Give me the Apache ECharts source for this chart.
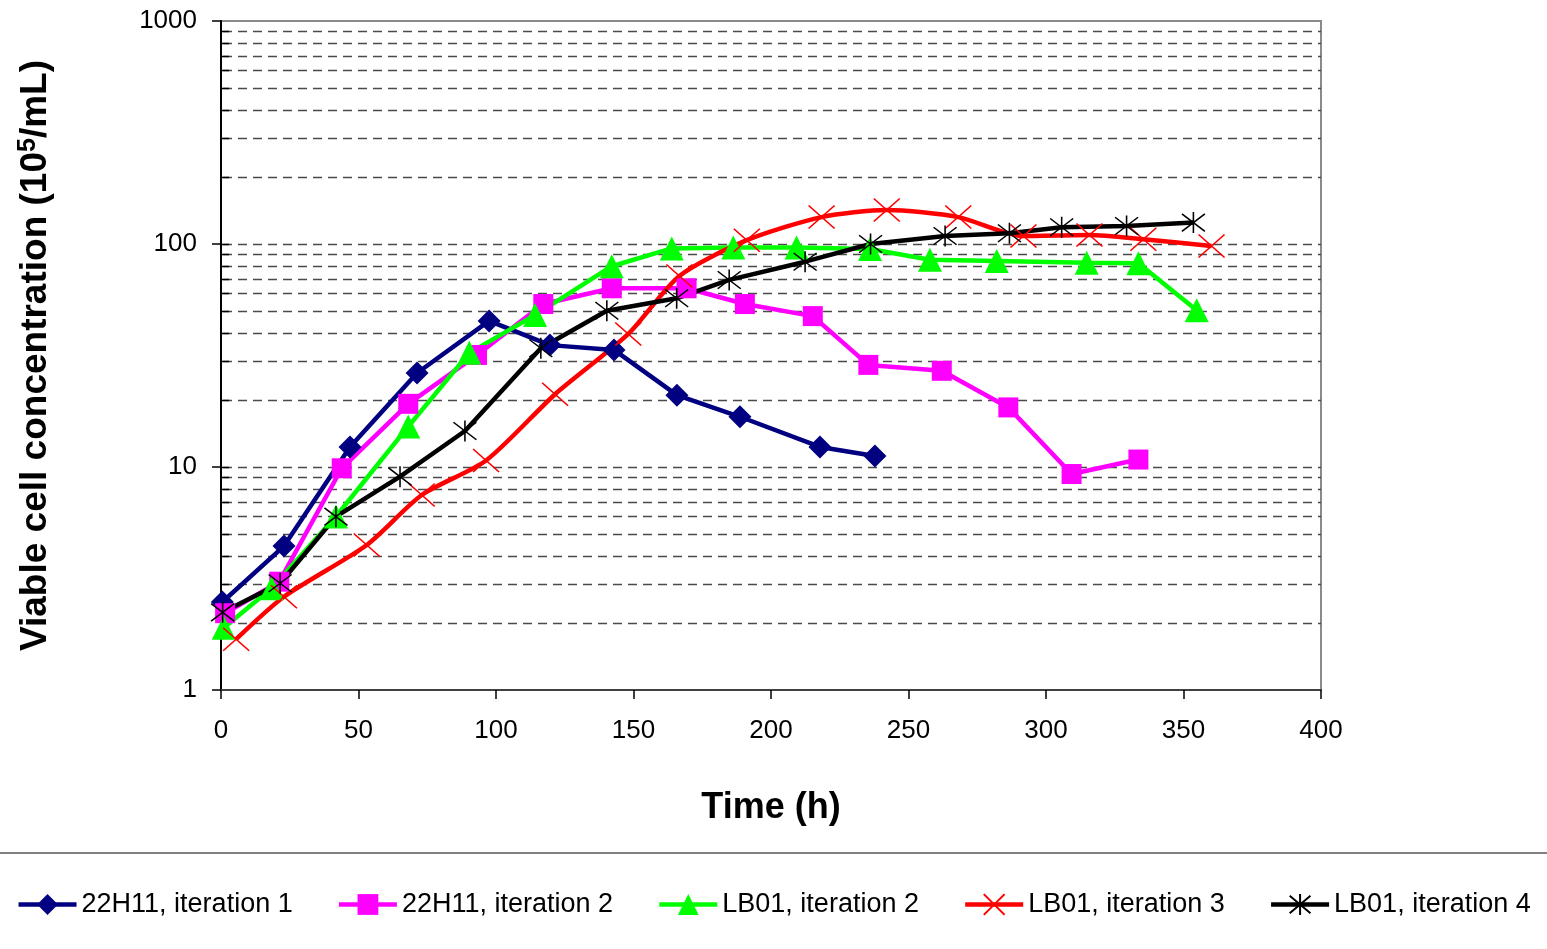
<!DOCTYPE html>
<html>
<head>
<meta charset="utf-8">
<script src="https://cdn.jsdelivr.net/npm/echarts@6/dist/echarts.min.js"></script>
<style>
  html, body { margin: 0; padding: 0; background: #fff; }
  #chart { width: 1547px; height: 949px; }
</style>
</head>
<body>
<div id="chart"></div>
<script>
// values: [time (h), viable cells (10^5/mL)]
var s22h11it1 = [[0.5, 2.48], [22.9, 4.42], [46.9, 12.3], [71.3, 26.4], [97.5, 45.2], [119.6, 35.2],
  [142.9, 33.5], [165.8, 21.0], [188.7, 16.8], [217.8, 12.3], [237.8, 11.2]]
var s22h11it2 = [[1.5, 2.21], [21.2, 3.06], [43.9, 9.87], [68.1, 19.2], [93.1, 31.8], [117.2, 53.8],
  [142.1, 63.3], [169.3, 63.3], [190.5, 53.8], [215.2, 47.5], [235.4, 28.7], [262.1, 27.0],
  [286.3, 18.5], [309.3, 9.3], [333.6, 10.8]]
var sLB01it2 = [[1, 1.9], [18.4, 2.86], [41.8, 6.0], [68.1, 15.2], [90.3, 32.5], [114.2, 48.0],
  [142.1, 79.5], [163.9, 95.5], [186.3, 96.5], [209.3, 96.5], [236.0, 95.0], [257.8, 85.0],
  [282.1, 84.0], [314.8, 82.5], [333.6, 82.0], [354.8, 50.5]]
var sLB01it3 = [[5.5, 1.69], [22.9, 2.62], [53.0, 4.47], [73.0, 7.49], [96.4, 10.7], [121.5, 21.2],
  [148.1, 39.5], [166.7, 71.9], [191.2, 104], [218.4, 132], [242.1, 142], [268.1, 132],
  [291.8, 108.6], [315.8, 109.7], [335.4, 105], [360.2, 97.9]]
var sLB01it4 = [[0.6, 2.23], [21.5, 3.01], [41.8, 5.99], [65.1, 9.05], [88.7, 14.5], [116.3, 34.1],
  [140.3, 50.2], [165.7, 57.1], [184.8, 69.0], [212.4, 83.3], [236.2, 100], [263.3, 108.6],
  [286.7, 111.7], [305.7, 118.8], [329.3, 120.5], [353.6, 124.7]]

var seriesNames = ['22H11, iteration 1', '22H11, iteration 2', 'LB01, iteration 2', 'LB01, iteration 3', 'LB01, iteration 4']
// dashed horizontal grid lines of the log axis
var gridValues = [2, 3, 4, 5, 6, 7, 8, 9, 10, 20, 30, 40, 50, 60, 70, 80, 90, 100,
  200, 300, 400, 500, 600, 700, 800, 900]

var chart = echarts.init(document.getElementById('chart'))

function lineSeries(name, data, color, symbol, size, extra) {
  var s = {
    name: name,
    type: 'line',
    data: data,
    symbol: symbol,
    symbolSize: size,
    z: 3,
    lineStyle: { color: color, width: 4.5 },
    itemStyle: { color: color },
    emphasis: { disabled: true }
  }
  if (extra) {
    for (var k in extra) s[k] = extra[k]
  }
  return s
}

var crossPath = 'path://M0 0L10 10M10 0L0 10'
var starPath = 'path://M0 0L10 10M10 0L0 10M5 -1L5 11'

option = {
  animation: false,
  backgroundColor: '#fff',
  grid: {
    left: 221,
    right: 226,
    top: 21,
    bottom: 259,
    show: true,
    borderColor: '#8a8a8a',
    borderWidth: 2,
    backgroundColor: '#fff'
  },
  legend: {
    data: seriesNames,
    left: 'center',
    top: 886,
    itemWidth: 58,
    itemHeight: 26,
    itemGap: 44,
    lineStyle: { width: 4.5 },
    textStyle: { fontFamily: 'Liberation Sans', fontSize: 27, color: '#000' }
  },
  graphic: [{
    type: 'line',
    shape: { x1: 0, y1: 853, x2: 1547, y2: 853 },
    style: { stroke: '#808080', lineWidth: 2 }
  }],
  xAxis: {
    type: 'value',
    min: 0,
    max: 400,
    interval: 50,
    name: 'Time (h)',
    nameLocation: 'middle',
    nameGap: 100,
    nameTextStyle: { fontFamily: 'Liberation Sans', fontSize: 36, fontWeight: 'bold', color: '#000' },
    axisLine: { lineStyle: { color: '#404040', width: 2 } },
    axisTick: { show: true, inside: false, length: 9, lineStyle: { color: '#000', width: 1.5 } },
    axisLabel: { margin: 28, fontFamily: 'Liberation Sans', fontSize: 26, color: '#000' },
    splitLine: { show: false }
  },
  yAxis: {
    type: 'log',
    logBase: 10,
    min: 1,
    max: 1000,
    name: '{a|Viable cell concentration (10}{s|5}{a|/mL)}',
    nameLocation: 'middle',
    nameGap: 166,
    nameTextStyle: {
      rich: {
        a: { fontFamily: 'Liberation Sans', fontSize: 37, fontWeight: 'bold', color: '#000' },
        s: { fontFamily: 'Liberation Sans', fontSize: 25, fontWeight: 'bold', color: '#000', verticalAlign: 'top', padding: [0, 0, 14, 0] }
      }
    },
    axisLine: { show: true, lineStyle: { color: '#000', width: 2 } },
    axisTick: { show: true, inside: false, length: 9, lineStyle: { color: '#000', width: 1.5 } },
    axisLabel: {
      margin: 24, fontFamily: 'Liberation Sans', fontSize: 26, color: '#000',
      formatter: function (v) { return String(Math.round(v)) }
    },
    splitLine: { show: false }
  },
  series: [
    {
      type: 'custom',
      silent: true,
      z: 1,
      data: gridValues.map(function (v) { return [0, v] }),
      renderItem: function (params, api) {
        var cs = params.coordSys
        var y = Math.round(api.coord([0, api.value(1)])[1]) + 0.5
        return {
          type: 'group',
          children: [{
            type: 'line',
            shape: { x1: cs.x + 2, y1: y, x2: cs.x + cs.width, y2: y },
            style: { stroke: '#4a4a4a', lineWidth: 1.5, lineDash: [9, 6] }
          }, {
            type: 'line',
            shape: { x1: cs.x, y1: y, x2: cs.x + 8, y2: y },
            style: { stroke: '#000', lineWidth: 1.5 }
          }]
        }
      }
    },
    lineSeries(seriesNames[0], s22h11it1, '#000080', 'diamond', 23),
    lineSeries(seriesNames[1], s22h11it2, '#ff00ff', 'rect', 20),
    lineSeries(seriesNames[2], sLB01it2, '#00ff00', 'triangle', 24),
    lineSeries(seriesNames[3], sLB01it3, '#ff0000', crossPath, [26, 23], {
      smooth: 0.25,
      itemStyle: { color: '#ff0000', borderColor: '#ff0000', borderWidth: 1.5 }
    }),
    lineSeries(seriesNames[4], sLB01it4, '#000000', starPath, [23, 21], {
      itemStyle: { color: '#000', borderColor: '#000', borderWidth: 1.5 }
    })
  ]
}
chart.setOption(option)
</script>
</body>
</html>
